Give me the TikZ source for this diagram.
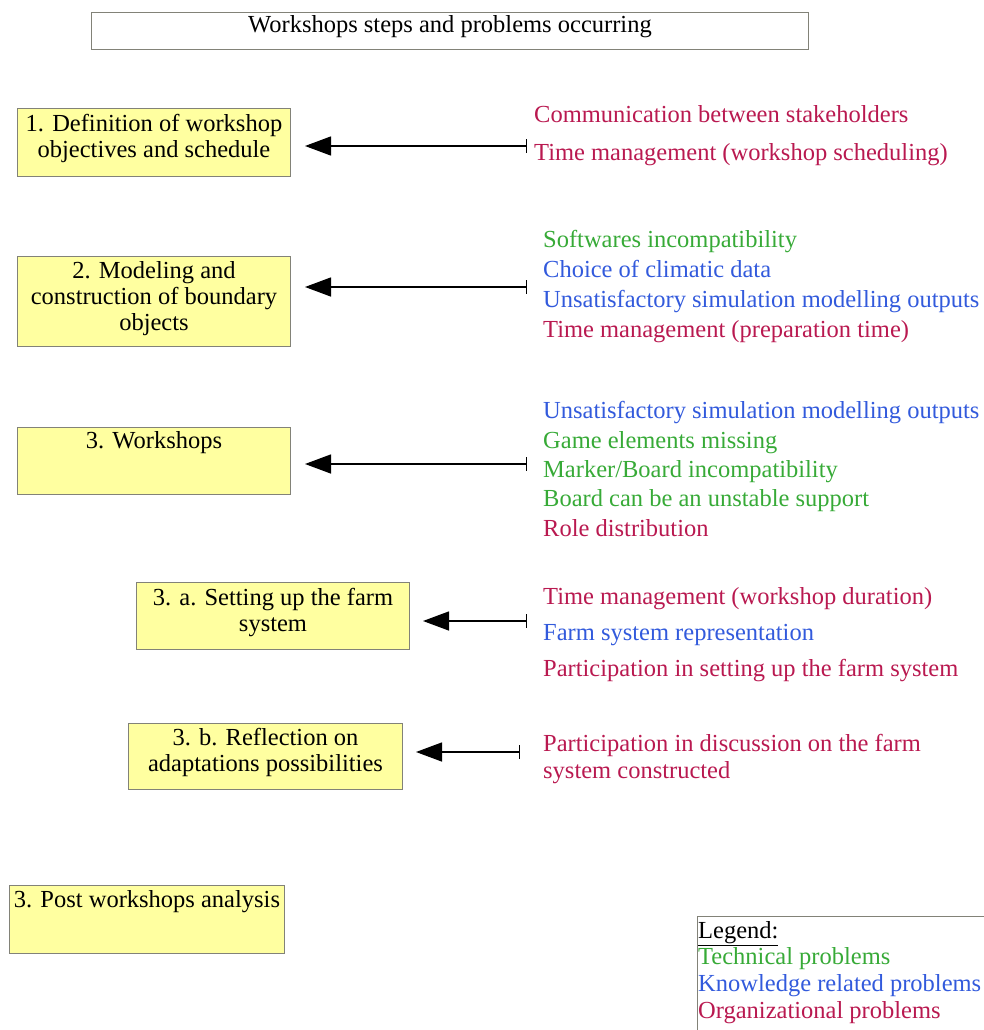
\documentclass[tikz,border=0pt]{standalone}
\usepackage{fontspec}
\setmainfont{Liberation Serif}
\usetikzlibrary{arrows.meta}
\definecolor{techgreen}{RGB}{55,170,55}
\definecolor{knowblue}{RGB}{50,90,220}
\definecolor{orgred}{RGB}{185,25,80}
\definecolor{boxfill}{RGB}{255,255,160}
\definecolor{boxline}{RGB}{130,130,120}
\tikzset{
  stepbox/.style={draw=boxline, fill=boxfill, line width=1pt, inner sep=0pt, anchor=north west},
  boxtext/.style={inner sep=0pt, anchor=mid, yshift=-5pt, font=\fontsize{24.5}{27}\selectfont},
  prob/.style={inner sep=0pt, anchor=mid west, yshift=-5pt, font=\fontsize{24.5}{27}\selectfont},
  tech/.style={prob, text=techgreen},
  know/.style={prob, text=knowblue},
  org/.style={prob, text=orgred},
  conn/.style={line width=1.4pt, {Bar[width=14pt]}-{Triangle[length=26pt,width=19pt]}}
}
\begin{document}
\begin{tikzpicture}[x=1pt,y=-1pt]
\useasboundingbox (0,0) rectangle (983,1030);
% title
\node[draw=boxline, line width=1pt, inner sep=0pt, minimum width=717, minimum height=37, anchor=north west] (title) at (91,12) {};
\node[boxtext] (titlet) at (450,25) {Workshops steps and problems occurring};
% step boxes
\node[stepbox, minimum width=273, minimum height=68] (b1) at (17,108) {};
\node[boxtext] (b1a) at (b1.north |- 0,124) {1. Definition of workshop};
\node[boxtext] (b1b) at (b1.north |- 0,150) {objectives and schedule};
\node[stepbox, minimum width=273, minimum height=90] (b2) at (17,256) {};
\node[boxtext] (b2a) at (b2.north |- 0,271) {2. Modeling and};
\node[boxtext] (b2b) at (b2.north |- 0,297) {construction of boundary};
\node[boxtext] (b2c) at (b2.north |- 0,323) {objects};
\node[stepbox, minimum width=273, minimum height=67] (b3) at (17,427) {};
\node[boxtext] (b3a) at (b3.north |- 0,441) {3. Workshops};
\node[stepbox, minimum width=273, minimum height=67] (b3x) at (136,582) {};
\node[boxtext] (b3xa) at (b3x.north |- 0,598) {3. a. Setting up the farm};
\node[boxtext] (b3xb) at (b3x.north |- 0,624) {system};
\node[stepbox, minimum width=274, minimum height=66] (b3y) at (128,723) {};
\node[boxtext] (b3ya) at (b3y.north |- 0,738) {3. b. Reflection on};
\node[boxtext] (b3yb) at (b3y.north |- 0,764) {adaptations possibilities};
\node[stepbox, minimum width=275, minimum height=68] (b4) at (9,885) {};
\node[boxtext] (b4a) at (b4.north |- 0,900) {3. Post workshops analysis};
% connectors
\coordinate (s1) at (527,146); \coordinate (e1) at (305,146);
\coordinate (s2) at (527,287); \coordinate (e2) at (305,287);
\coordinate (s3) at (527,464); \coordinate (e3) at (305,464);
\coordinate (s4) at (527,621); \coordinate (e4) at (423,621);
\coordinate (s5) at (520,752); \coordinate (e5) at (416,752);
\draw[conn] (s1) -- (e1);
\draw[conn] (s2) -- (e2);
\draw[conn] (s3) -- (e3);
\draw[conn] (s4) -- (e4);
\draw[conn] (s5) -- (e5);
% problems
\node[org] (p11) at (534,115) {Communication between stakeholders};
\node[org] (p12) at (534,153) {Time management (workshop scheduling)};
\node[tech] (p21) at (543,240) {Softwares incompatibility};
\node[know] (p22) at (543,270) {Choice of climatic data};
\node[know] (p23) at (543,300) {Unsatisfactory simulation modelling outputs};
\node[org] (p24) at (543,330) {Time management (preparation time)};
\node[know] (p31) at (543,411) {Unsatisfactory simulation modelling outputs};
\node[tech] (p32) at (543,441) {Game elements missing};
\node[tech] (p33) at (543,470) {Marker/Board incompatibility};
\node[tech] (p34) at (543,499) {Board can be an unstable support};
\node[org] (p35) at (543,529) {Role distribution};
\node[org] (p41) at (543,597) {Time management (workshop duration)};
\node[know] (p42) at (543,633) {Farm system representation};
\node[org] (p43) at (543,669) {Participation in setting up the farm system};
\node[org] (p51) at (543,744) {Participation in discussion on the farm};
\node[org] (p52) at (543,771) {system constructed};
% legend
\draw[boxline, line width=1pt] (697,1040) -- (697,916) -- (995,916);
\node[prob] (lg0) at (698,931) {\underline{Legend:}};
\node[tech] (lg1) at (698,957) {Technical problems};
\node[know] (lg2) at (698,984) {Knowledge related problems};
\node[org] (lg3) at (698,1011) {Organizational problems};
\end{tikzpicture}
\end{document}
